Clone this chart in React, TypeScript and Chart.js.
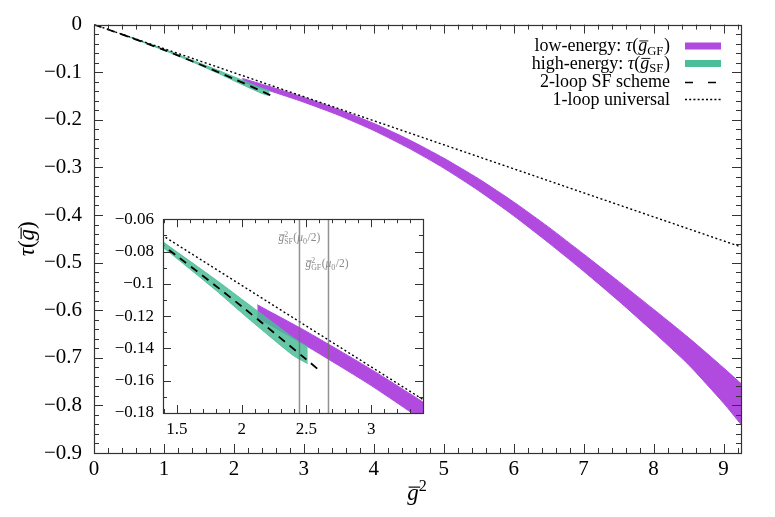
import React, { useEffect, useRef } from "react";
import { Chart, registerables } from "chart.js";
Chart.register(...registerables);

const FONT = "'Liberation Serif', 'DejaVu Serif', serif";
const PURPLE = "#b14be0";
const GREEN = "rgba(75,189,152,0.85)";
const GREEN_SOLID = "#4bbd98";

// 1-loop universal (dotted)
const oneLoopX = [0, 9.25];
const oneLoopY = [0, -0.467];

// 2-loop SF scheme (dashed)
const twoLoopX = [0, 0.5, 1.0, 1.5, 2.0, 2.5, 2.6];
const twoLoopY = [0, -0.0259, -0.0534, -0.0828, -0.114, -0.1469, -0.1537];

// high-energy: tau(g_SF) band
const highX = [0.4, 1.0, 1.4, 1.8, 2.0, 2.2, 2.4, 2.51];
const highUpper = [-0.0198, -0.0515, -0.0745, -0.0975, -0.1095, -0.1215, -0.1335, -0.139];
const highLower = [-0.0206, -0.054, -0.078, -0.104, -0.118, -0.1315, -0.1445, -0.1495];

// low-energy: tau(g_GF) band
const lowX = [2.12, 2.5, 3.0, 3.5, 4.0, 4.5, 5.0, 5.5, 6.0, 6.5, 7.0, 7.5, 8.0, 8.5, 9.0, 9.25];
const lowUpper = [-0.113, -0.1295, -0.153, -0.1785, -0.2075, -0.2415, -0.2805, -0.324, -0.3725, -0.4255, -0.482, -0.5395, -0.598, -0.6575, -0.721, -0.754];
const lowLower = [-0.121, -0.1385, -0.163, -0.1905, -0.2225, -0.2595, -0.3015, -0.349, -0.4015, -0.4585, -0.518, -0.5805, -0.646, -0.7145, -0.795, -0.84];

// tick labels
const mainXTicks = [0, 1, 2, 3, 4, 5, 6, 7, 8, 9];
const mainYTicks = [0, -0.1, -0.2, -0.3, -0.4, -0.5, -0.6, -0.7, -0.8, -0.9];
const insetXTicks = [1.5, 2, 2.5, 3];
const insetYTicks = [-0.06, -0.08, -0.1, -0.12, -0.14, -0.16, -0.18];

// reference scales in inset (vertical lines)
const refScaleX = [2.446, 2.67];

type Seg = { t: string; it?: boolean; bar?: boolean; kind?: "sub" | "sup" | "supsub"; t2?: string };

function fnt(size: number, it?: boolean) {
  return `${it ? "italic " : ""}${size}px ${FONT}`;
}

function drawRich(
  ctx: CanvasRenderingContext2D,
  x: number,
  y: number,
  segs: Seg[],
  size: number,
  align: "left" | "right" | "center",
  color: string
) {
  const items: { s: Seg; x: number; w: number }[] = [];
  let w = 0;
  for (const s of segs) {
    let sw = 0;
    if (s.kind === "supsub") {
      ctx.font = fnt(size * 0.68);
      sw = Math.max(ctx.measureText(s.t).width, ctx.measureText(s.t2 || "").width);
    } else if (s.kind === "sub" || s.kind === "sup") {
      ctx.font = fnt(size * 0.7, s.it);
      sw = ctx.measureText(s.t).width;
    } else {
      ctx.font = fnt(size, s.it);
      sw = ctx.measureText(s.t).width;
    }
    items.push({ s, x: w, w: sw });
    w += sw + (s.kind ? size * 0.04 : 0);
  }
  let x0 = x;
  if (align === "right") x0 = x - w;
  else if (align === "center") x0 = x - w / 2;
  ctx.save();
  ctx.fillStyle = color;
  ctx.strokeStyle = color;
  ctx.textBaseline = "alphabetic";
  ctx.textAlign = "left";
  for (const it of items) {
    const s = it.s;
    const px = x0 + it.x;
    if (s.kind === "supsub") {
      ctx.font = fnt(size * 0.68);
      ctx.fillText(s.t, px, y - size * 0.4);
      ctx.fillText(s.t2 || "", px, y + size * 0.22);
    } else if (s.kind === "sub") {
      ctx.font = fnt(size * 0.7, s.it);
      ctx.fillText(s.t, px, y + size * 0.22);
    } else if (s.kind === "sup") {
      ctx.font = fnt(size * 0.7, s.it);
      ctx.fillText(s.t, px, y - size * 0.4);
    } else {
      ctx.font = fnt(size, s.it);
      ctx.fillText(s.t, px, y);
    }
    if (s.bar) {
      ctx.lineWidth = Math.max(0.8, size * 0.05);
      ctx.beginPath();
      const by = y - size * 0.56;
      ctx.moveTo(px + size * 0.06, by);
      ctx.lineTo(px + it.w + size * 0.06, by);
      ctx.stroke();
    }
  }
  ctx.restore();
}

const fmt = (v: number) => (v === 0 ? "0" : (v < 0 ? "\u2212" : "") + String(Math.abs(v)));

const pts = (xs: number[], ys: number[]) => xs.map((x, i) => ({ x, y: ys[i] }));

function makeDatasets(): any[] {
  return [
    { data: pts(oneLoopX, oneLoopY), borderColor: "#000", borderWidth: 1.4, borderDash: [2, 2.5], pointRadius: 0, fill: false },
    { data: pts(twoLoopX, twoLoopY), borderColor: "#000", borderWidth: 1.8, borderDash: [8, 6], pointRadius: 0, fill: false, tension: 0.3 },
    { data: pts(highX, highUpper), borderColor: GREEN, borderWidth: 1, pointRadius: 0, fill: "+1", backgroundColor: GREEN, tension: 0.2 },
    { data: pts(highX, highLower), borderColor: GREEN, borderWidth: 1, pointRadius: 0, fill: false, tension: 0.2 },
    { data: pts(lowX, lowUpper), borderColor: PURPLE, borderWidth: 1, pointRadius: 0, fill: "+1", backgroundColor: PURPLE, tension: 0.2 },
    { data: pts(lowX, lowLower), borderColor: PURPLE, borderWidth: 1, pointRadius: 0, fill: false, tension: 0.2 },
  ];
}

function ticksPlugin(o: { xMin: number; xMax: number; yMin: number; yMax: number; xMajor: number; xMinor: number; yMajor: number; yMinor: number; majLen: number; minLen: number; vlines?: number[] }) {
  return {
    id: "frameTicks",
    afterDatasetsDraw(chart: any) {
      const { ctx, chartArea } = chart;
      const { left, right, top, bottom } = chartArea;
      const xs = chart.scales.x;
      const ys = chart.scales.y;
      ctx.save();
      if (o.vlines) {
        ctx.strokeStyle = "rgba(110,110,110,0.75)";
        ctx.lineWidth = 1.5;
        for (const v of o.vlines) {
          const px = xs.getPixelForValue(v);
          ctx.beginPath();
          ctx.moveTo(px, top);
          ctx.lineTo(px, bottom);
          ctx.stroke();
        }
      }
      ctx.strokeStyle = "#333";
      ctx.lineWidth = 1;
      const isMaj = (v: number, m: number) => Math.abs(v / m - Math.round(v / m)) < 1e-6;
      const i0 = Math.ceil(o.xMin / o.xMinor - 1e-9);
      const i1 = Math.floor(o.xMax / o.xMinor + 1e-9);
      for (let i = i0; i <= i1; i++) {
        const v = i * o.xMinor;
        const px = Math.round(xs.getPixelForValue(v)) + 0.5;
        const len = isMaj(v, o.xMajor) ? o.majLen : o.minLen;
        ctx.beginPath();
        ctx.moveTo(px, bottom);
        ctx.lineTo(px, bottom - len);
        ctx.moveTo(px, top);
        ctx.lineTo(px, top + len);
        ctx.stroke();
      }
      const j0 = Math.ceil(o.yMin / o.yMinor - 1e-9);
      const j1 = Math.floor(o.yMax / o.yMinor + 1e-9);
      for (let j = j0; j <= j1; j++) {
        const v = j * o.yMinor;
        const py = Math.round(ys.getPixelForValue(v)) + 0.5;
        const len = isMaj(v, o.yMajor) ? o.majLen : o.minLen;
        ctx.beginPath();
        ctx.moveTo(left, py);
        ctx.lineTo(left + len, py);
        ctx.moveTo(right, py);
        ctx.lineTo(right - len, py);
        ctx.stroke();
      }
      ctx.strokeStyle = "#333";
      ctx.lineWidth = 1.2;
      ctx.strokeRect(Math.round(left) + 0.5, Math.round(top) + 0.5, Math.round(right - left), Math.round(bottom - top));
      ctx.restore();
    },
  };
}

const mainDecor = {
  id: "mainDecor",
  afterDraw(chart: any) {
    const ctx: CanvasRenderingContext2D = chart.ctx;
    const { left, right, top, bottom } = chart.chartArea;
    // axis titles
    drawRich(ctx, (left + right) / 2, 500, [{ t: "g", it: true, bar: true }, { t: "2", kind: "sup" }], 23, "center", "#000");
    ctx.save();
    ctx.translate(28, (top + bottom) / 2);
    ctx.rotate(-Math.PI / 2);
    drawRich(ctx, 0, 6, [{ t: "\u03c4", it: true }, { t: "(" }, { t: "g", it: true, bar: true }, { t: ")" }], 23, "center", "#000");
    ctx.restore();
    // legend
    const tx = 670;
    const size = 18;
    const rows = [
      { y: 46, segs: [{ t: "low-energy: " }, { t: "\u03c4", it: true }, { t: "(" }, { t: "g", it: true, bar: true }, { t: "GF", kind: "sub" }, { t: ")" }] as Seg[] },
      { y: 63.5, segs: [{ t: "high-energy: " }, { t: "\u03c4", it: true }, { t: "(" }, { t: "g", it: true, bar: true }, { t: "SF", kind: "sub" }, { t: ")" }] as Seg[] },
      { y: 82, segs: [{ t: "2-loop SF scheme" }] as Seg[] },
      { y: 99.5, segs: [{ t: "1-loop universal" }] as Seg[] },
    ];
    rows.forEach((r) => drawRich(ctx, tx, r.y + 5, r.segs, size, "right", "#000"));
    ctx.save();
    ctx.lineCap = "butt";
    ctx.lineWidth = 7;
    ctx.strokeStyle = PURPLE;
    ctx.beginPath();
    ctx.moveTo(685, 46);
    ctx.lineTo(721, 46);
    ctx.stroke();
    ctx.strokeStyle = GREEN_SOLID;
    ctx.beginPath();
    ctx.moveTo(685, 63.5);
    ctx.lineTo(721, 63.5);
    ctx.stroke();
    ctx.strokeStyle = "#000";
    ctx.lineWidth = 1.6;
    ctx.setLineDash([8, 15]);
    ctx.beginPath();
    ctx.moveTo(685, 82.5);
    ctx.lineTo(721, 82.5);
    ctx.stroke();
    ctx.lineWidth = 1.3;
    ctx.setLineDash([2, 2.2]);
    ctx.beginPath();
    ctx.moveTo(685, 99.5);
    ctx.lineTo(721, 99.5);
    ctx.stroke();
    ctx.restore();
  },
};

const insetDecor = {
  id: "insetDecor",
  afterDraw(chart: any) {
    const ctx: CanvasRenderingContext2D = chart.ctx;
    const xs = chart.scales.x;
    const top = chart.chartArea.top;
    const c = "#8a8a8a";
    const s = 11.5;
    const p1 = xs.getPixelForValue(refScaleX[0]);
    const p2 = xs.getPixelForValue(refScaleX[1]);
    drawRich(ctx, p1 - 21, top + 22, [{ t: "g", it: true, bar: true }, { t: "2", t2: "SF", kind: "supsub" }, { t: "(" }, { t: "\u03bc", it: true }, { t: "0", kind: "sub" }, { t: "/2)" }], s, "left", c);
    drawRich(ctx, p2 - 23, top + 48, [{ t: "g", it: true, bar: true }, { t: "2", t2: "GF", kind: "supsub" }, { t: "(" }, { t: "\u03bc", it: true }, { t: "0", kind: "sub" }, { t: "/2)" }], s, "left", c);
  },
};

export default function App() {
  const mainRef = useRef<HTMLCanvasElement>(null);
  const insetRef = useRef<HTMLCanvasElement>(null);

  useEffect(() => {
    const mainChart = new Chart(mainRef.current!, {
      type: "line",
      data: { datasets: makeDatasets() },
      options: {
        responsive: false,
        animation: false,
        layout: { padding: { top: 19, right: 34, left: 0, bottom: 0 } },
        plugins: { legend: { display: false }, tooltip: { enabled: false } },
        scales: {
          x: {
            type: "linear",
            min: 0,
            max: 9.25,
            grid: { display: false, drawTicks: false },
            border: { display: false },
            afterBuildTicks: (s: any) => {
              s.ticks = mainXTicks.map((v) => ({ value: v }));
            },
            afterFit: (s: any) => {
              s.height = 64;
            },
            ticks: { font: { family: FONT, size: 21 }, color: "#000", padding: 4, maxRotation: 0, autoSkip: false, callback: (v: any) => fmt(Number(v)) },
          },
          y: {
            type: "linear",
            min: -0.9,
            max: 0,
            grid: { display: false, drawTicks: false },
            border: { display: false },
            afterBuildTicks: (s: any) => {
              s.ticks = mainYTicks.map((v) => ({ value: v }));
            },
            afterFit: (s: any) => {
              s.width = 94;
            },
            ticks: { font: { family: FONT, size: 21 }, color: "#000", padding: 12, autoSkip: false, callback: (v: any) => fmt(Number(v)) },
          },
        },
      },
      plugins: [
        ticksPlugin({ xMin: 0, xMax: 9.25, yMin: -0.9, yMax: 0, xMajor: 1, xMinor: 0.2, yMajor: 0.1, yMinor: 0.02, majLen: 9, minLen: 5 }),
        mainDecor,
      ],
    } as any);

    const insetChart = new Chart(insetRef.current!, {
      type: "line",
      data: { datasets: makeDatasets() },
      options: {
        responsive: false,
        animation: false,
        layout: { padding: { top: 15, right: 17, left: 0, bottom: 0 } },
        plugins: { legend: { display: false }, tooltip: { enabled: false } },
        scales: {
          x: {
            type: "linear",
            min: 1.392,
            max: 3.4,
            grid: { display: false, drawTicks: false },
            border: { display: false },
            afterBuildTicks: (s: any) => {
              s.ticks = insetXTicks.map((v) => ({ value: v }));
            },
            afterFit: (s: any) => {
              s.height = 32;
            },
            ticks: { font: { family: FONT, size: 17 }, color: "#000", padding: 6, maxRotation: 0, autoSkip: false, callback: (v: any) => fmt(Number(v)) },
          },
          y: {
            type: "linear",
            min: -0.18,
            max: -0.06,
            grid: { display: false, drawTicks: false },
            border: { display: false },
            afterBuildTicks: (s: any) => {
              s.ticks = insetYTicks.map((v) => ({ value: v }));
            },
            afterFit: (s: any) => {
              s.width = 63;
            },
            ticks: { font: { family: FONT, size: 17 }, color: "#000", padding: 9, autoSkip: false, callback: (v: any) => fmt(Number(v)) },
          },
        },
      },
      plugins: [
        ticksPlugin({ xMin: 1.392, xMax: 3.4, yMin: -0.18, yMax: -0.06, xMajor: 0.5, xMinor: 0.1, yMajor: 0.02, yMinor: 0.01, majLen: 8, minLen: 4, vlines: refScaleX }),
        insetDecor,
      ],
    } as any);

    return () => {
      mainChart.destroy();
      insetChart.destroy();
    };
  }, []);

  return (
    <div style={{ position: "absolute", left: 0, top: 0, width: 775, height: 517, background: "#fff" }}>
      <canvas ref={mainRef} width={775} height={517} style={{ position: "absolute", left: 0, top: 0, width: 775, height: 517 }} />
      <canvas ref={insetRef} width={340} height={245} style={{ position: "absolute", left: 100, top: 200, width: 340, height: 245 }} />
    </div>
  );
}
